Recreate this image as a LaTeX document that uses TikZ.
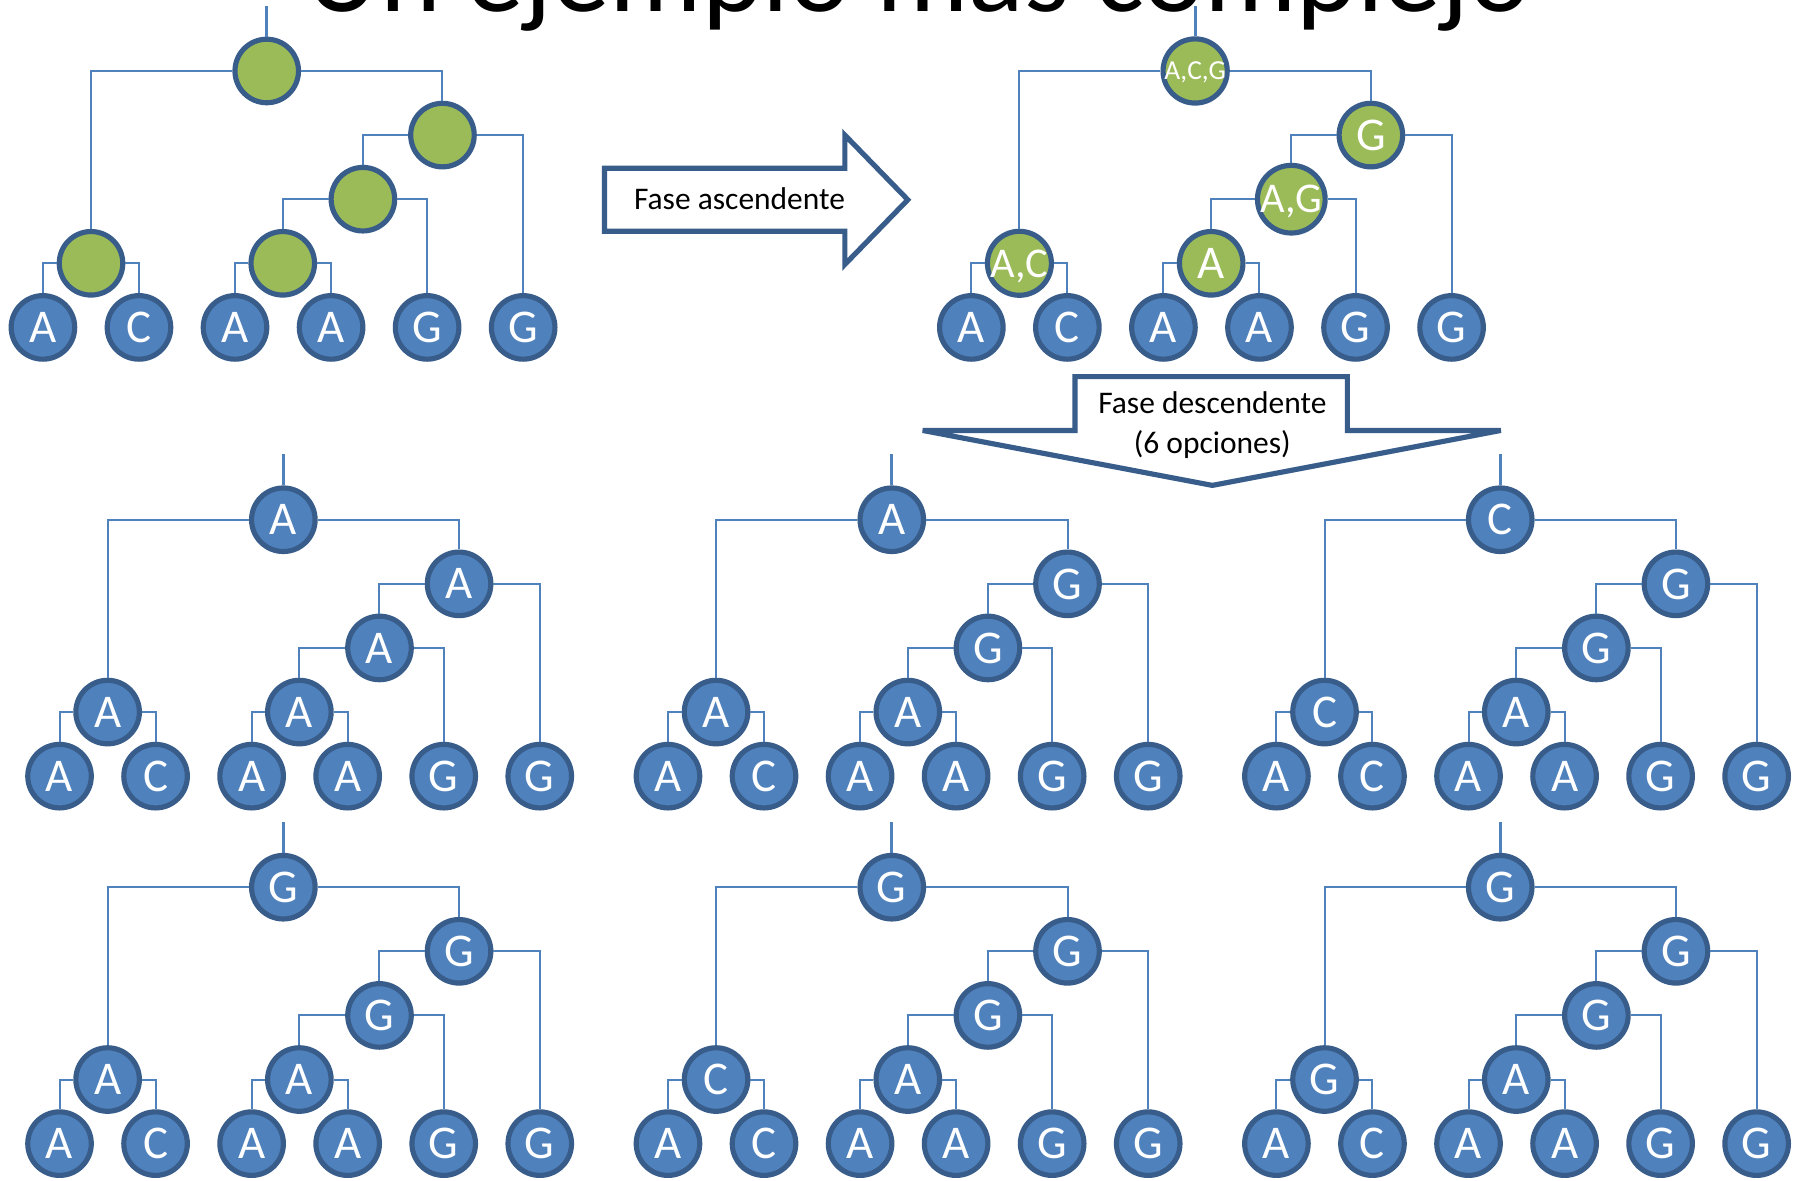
\documentclass[tikz,border=0pt]{standalone}
\usepackage{fontspec}
\setmainfont{Carlito}
\definecolor{leafblue}{HTML}{4F81BD}
\definecolor{nodegreen}{HTML}{9BBB59}
\definecolor{darkborder}{HTML}{385D8A}
\newcommand\labmid{\fontsize{37}{37}\selectfont}
\newcommand\labsmall{\fontsize{24}{24}\selectfont}
\tikzset{
  tnode/.style={circle, minimum size=55.5pt, inner sep=0pt, line width=4.5pt, draw=darkborder, text=white, text depth=0pt, font=\fontsize{41}{41}\selectfont},
  bluenode/.style={tnode, fill=leafblue},
  greennode/.style={tnode, fill=nodegreen},
  conn/.style={draw=leafblue, line width=1.75pt},
  stubline/.style={draw=leafblue, line width=2.6pt},
  arrowshape/.style={draw=darkborder, line width=4.5pt, fill=white},
  arrowtext/.style={font=\fontsize{27.5}{27.5}\selectfont, anchor=base, text=black, inner sep=0pt},
}
% #1 prefix, #2 root position, #3 inner style, #4 root, #5 R1, #6 R2, #7 R3, #8 L
\newcommand\drawtree[8]{%
\begin{scope}[shift={(#2)}]
  \coordinate (#1s) at (0,-57);
  \node[#3] (#1r) at (0,0) {#4};
  \node[#3] (#1a) at (153.5,56) {#5};
  \node[#3] (#1b) at (84,112) {#6};
  \node[#3] (#1c) at (14,168) {#7};
  \node[#3] (#1l) at (-153.5,168) {#8};
  \node[bluenode] (#1x1) at (-195.5,224) {A};
  \node[bluenode] (#1x2) at (-111.6,224) {C};
  \node[bluenode] (#1x3) at (-27.7,224) {A};
  \node[bluenode] (#1x4) at (56.2,224) {A};
  \node[bluenode] (#1x5) at (140.1,224) {G};
  \node[bluenode] (#1x6) at (224,224) {G};
  \draw[stubline] (#1r) -- (#1s);
  \draw[conn] (#1r) -| (#1l);
  \draw[conn] (#1r) -| (#1a);
  \draw[conn] (#1a) -| (#1b);
  \draw[conn] (#1a) -| (#1x6);
  \draw[conn] (#1b) -| (#1c);
  \draw[conn] (#1b) -| (#1x5);
  \draw[conn] (#1c) -| (#1x3);
  \draw[conn] (#1c) -| (#1x4);
  \draw[conn] (#1l) -| (#1x1);
  \draw[conn] (#1l) -| (#1x2);
\end{scope}}
\begin{document}
\begin{tikzpicture}[x=1pt, y=-1pt]
\useasboundingbox (0,0) rectangle (1568,1031);
\clip (0,0) rectangle (1568,1031);
\fill[white] (0,0) rectangle (1568,1031);

\node[font=\fontsize{101}{101}\selectfont, anchor=base, inner sep=0pt] (title) at (802,10) {Un ejemplo más complejo};

\drawtree{t}{233,62}{greennode}{}{}{}{}{}
\drawtree{u}{1044,62}{greennode}{\labsmall A,C,G}{G}{\labmid A,G}{A}{\labmid A,C}

\drawtree{p}{247.5,454}{bluenode}{A}{A}{A}{A}{A}
\drawtree{q}{779,454}{bluenode}{A}{G}{G}{A}{A}
\drawtree{r}{1310.5,454}{bluenode}{C}{G}{G}{A}{C}
\drawtree{m}{247.5,775}{bluenode}{G}{G}{G}{A}{A}
\drawtree{v}{779,775}{bluenode}{G}{G}{G}{A}{C}
\drawtree{w}{1310.5,775}{bluenode}{G}{G}{G}{A}{G}

\draw[arrowshape] (528,147) -- (738,147) -- (738,118) -- (793,174.5) -- (738,231) -- (738,202) -- (528,202) -- cycle;
\node[arrowtext] (asc) at (646,183) {Fase ascendente};

\draw[arrowshape] (939,329) -- (1177,329) -- (1177,376) -- (1311,376) -- (1059,424) -- (806,376) -- (939,376) -- cycle;
\node[arrowtext] (desca) at (1059,361) {Fase descendente};
\node[arrowtext] (descb) at (1059,396) {(6 opciones)};
\end{tikzpicture}
\end{document}
